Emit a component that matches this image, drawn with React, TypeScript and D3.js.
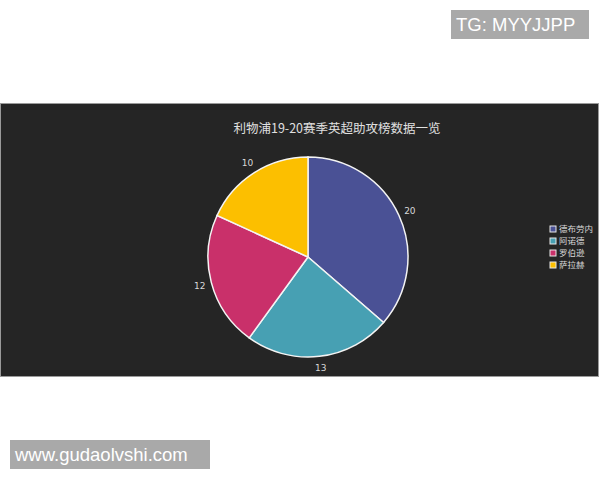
import React from "react";
import * as d3 from "d3";

const names = ["德布劳内", "阿诺德", "罗伯逊", "萨拉赫"];
const values = [20, 13, 12, 10];
const colors = ["#4a5195", "#47a0b3", "#c9306a", "#fcbf00"];
const title = "利物浦19-20赛季英超助攻榜数据一览";

export default function App() {
  const W = 600, H = 480;
  const cx = 308, cy = 257, r = 100, lr = 112;
  const pie = d3.pie<number>().sort(null).value((d) => d)(values);
  const arc = d3.arc<d3.PieArcDatum<number>>().innerRadius(0).outerRadius(r);
  const labelArc = d3.arc<d3.PieArcDatum<number>>().innerRadius(lr).outerRadius(lr);
  const font = "'Noto Sans CJK SC', 'Noto Sans', sans-serif";
  const wmFont = "'Liberation Sans', Arial, sans-serif";
  return (
    <svg width={W} height={H} style={{ position: "absolute", left: 0, top: 0, background: "#fff" }} fontFamily={font}>
      <rect x={0.5} y={103.5} width={598} height={273} fill="#252525" stroke="#9a9a9a" strokeWidth={1} />
      <text x={337} y={133} textAnchor="middle" fill="#e0e0e0" fontSize={12.5}>{title}</text>
      <g transform={`translate(${cx},${cy})`}>
        {pie.map((p, i) => (
          <path key={i} d={arc(p) as string} fill={colors[i]} stroke="#f4f4f4" strokeWidth={1.5} />
        ))}
        {pie.map((p, i) => {
          const [x, y] = labelArc.centroid(p);
          return (
            <text key={"l" + i} x={x} y={y} dy="0.35em" textAnchor="middle" fill="#d8d8d8" fontSize={9} fontFamily="'DejaVu Sans', sans-serif">
              {values[i]}
            </text>
          );
        })}
      </g>
      <g transform="translate(550,229)">
        {names.map((n, i) => (
          <g key={n} transform={`translate(0,${i * 12})`}>
            <rect x={0} y={-3} width={6} height={6} fill={colors[i]} stroke="#e8e8e8" strokeWidth={1} />
            <text x={9} y={0} dy="0.35em" fill="#d8d8d8" fontSize={8.5}>{n}</text>
          </g>
        ))}
      </g>
      <rect x={451} y={10} width={138} height={29} fill="#a9a9a9" />
      <text x={456} y={31} fill="#ffffff" fontSize={18.5} fontFamily={wmFont}>TG: MYYJJPP</text>
      <rect x={10} y={440} width={200} height={29} fill="#a9a9a9" />
      <text x={15} y={461} fill="#ffffff" fontSize={18.5} fontFamily={wmFont}>www.gudaolvshi.com</text>
    </svg>
  );
}
